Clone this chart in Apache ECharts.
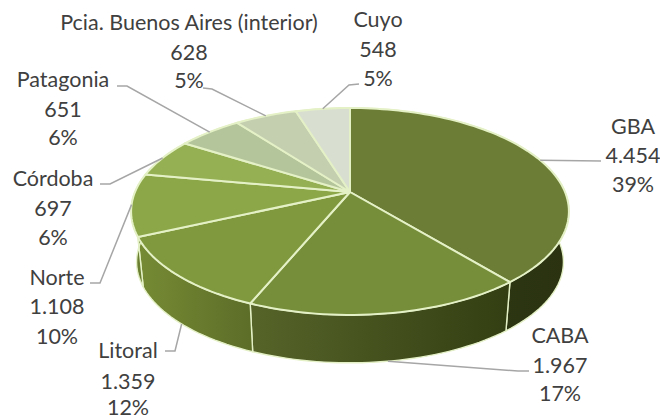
<!DOCTYPE html>
<html>
<head>
<meta charset="utf-8">
<style>
  html, body { margin: 0; padding: 0; background: #fff; }
  #chart { width: 660px; height: 419px; }
</style>
<script src="https://cdn.jsdelivr.net/npm/echarts@6/dist/echarts.min.js"></script>
</head>
<body>
<div id="chart"></div>
<script>
// clockwise from 12 o'clock, same order as the source pie
const categories = ['GBA', 'CABA', 'Litoral', 'Norte', 'Córdoba', 'Patagonia', 'Pcia. Buenos Aires (interior)', 'Cuyo'];
const values = [4454, 1967, 1359, 1108, 697, 651, 628, 548];
const valueLabels = ['4.454', '1.967', '1.359', '1.108', '697', '651', '628', '548'];
const percentLabels = ['39%', '17%', '12%', '10%', '6%', '6%', '5%', '5%'];

const topColors = ['#6C7D35', '#768D3A', '#80993E', '#8BA748', '#94B053', '#B5C59B', '#C4CFB0', '#D9DFD0'];
// left colour, right colour of each wall
const wallColors = [
  ['#333E14', '#2A3210'],
  ['#566429', '#333E12'],
  ['#768B34', '#5C6D28'],
  ['#6B7F30', '#6B7F30'],
  ['#6B7F30', '#6B7F30'],
  ['#6B7F30', '#6B7F30'],
  ['#6B7F30', '#6B7F30'],
  ['#6B7F30', '#6B7F30']
];

// label centre x, centre y of each of the three lines, elbow of the leader (x, y), stub end (x, y)
const labelBoxes = [
  [633, [126, 155, 184], 601, 161, 601, 161],
  [560, [335, 365, 393], 518, 371, 529, 371],
  [128, [350, 381, 407], 175, 351, 165, 351],
  [57, [277, 306, 336], 100, 283, 90, 283],
  [53, [178, 208, 237], 110, 184, 100, 184],
  [63, [79, 109, 137], 127, 86, 117, 86],
  [189, [22, 52, 80], 212, 89, 203, 88],
  [378, [19, 49, 78], 349, 85, 359, 84]
];
// which rim the leader lands on: 0 top face, 1 bottom of the wall
const leaderRim = [0, 1, 1, 0, 0, 0, 0, 0];

const RIM = '#E4F0C6';
const CX = 350, AY = 192;
const A = 215, B = 99.8, K = 0.188;  // perspective pie: half width, half height, tilt
const BOTTOM_Y = 243, BOTTOM_S = 0.975;

const total = values.reduce((s, v) => s + v, 0);
const starts = [];
values.reduce((s, v, i) => { starts[i] = s; return s + v; }, 0);

function ang(v) { return v / total * Math.PI * 2; }

function rimPoint(t, ay, s) {
  const u = Math.sin(t), v = -Math.cos(t), d = 1 - K * v;
  return [CX + s * A * u / d, ay + s * B * v / d];
}

function arc(t0, t1, ay, s) {
  const n = Math.max(2, Math.ceil((t1 - t0) / 0.03));
  const pts = [];
  for (let i = 0; i <= n; i++) pts.push(rimPoint(t0 + (t1 - t0) * i / n, ay, s));
  return pts;
}

function renderWall(params, api) {
  const i = params.dataIndex;
  const t0 = ang(starts[i]), t1 = t0 + ang(api.value(1));
  const pts = arc(t0, t1, AY, 1).concat(arc(t0, t1, BOTTOM_Y, BOTTOM_S).reverse());
  return {
    type: 'polygon',
    shape: { points: pts },
    style: {
      fill: new echarts.graphic.LinearGradient(0, 0, 1, 0, [
        { offset: 0, color: wallColors[i][0] },
        { offset: 1, color: wallColors[i][1] }
      ]),
      stroke: RIM,
      lineWidth: 1.4
    }
  };
}

function renderTop(params, api) {
  const i = params.dataIndex;
  const t0 = ang(starts[i]), t1 = t0 + ang(api.value(1));
  return {
    type: 'polygon',
    shape: { points: [[CX, AY]].concat(arc(t0, t1, AY, 1)) },
    style: { fill: topColors[i], stroke: RIM, lineWidth: 2, lineJoin: 'round' }
  };
}

function labelLine(x, y, text) {
  return {
    type: 'text',
    style: {
      x, y, text,
      align: 'center', verticalAlign: 'middle',
      fill: '#404040',
      fontFamily: 'Lato', fontSize: 21.5
    }
  };
}

function renderLabel(params, api) {
  const i = params.dataIndex;
  const mid = ang(starts[i] + api.value(1) / 2);
  const end = leaderRim[i] ? rimPoint(mid, BOTTOM_Y, BOTTOM_S) : rimPoint(mid, AY, 1);
  const b = labelBoxes[i];
  return {
    type: 'group',
    children: [
      {
        type: 'polyline',
        shape: { points: [[b[4], b[5]], [b[2], b[3]], end] },
        style: { fill: 'none', stroke: '#A6A6A6', lineWidth: 1.5 }
      },
      labelLine(b[0], b[1][0], categories[i]),
      labelLine(b[0], b[1][1], valueLabels[i]),
      labelLine(b[0], b[1][2], percentLabels[i])
    ]
  };
}

const data = values.map((v, i) => [i, v]);

const chart = echarts.init(document.getElementById('chart'), null, { renderer: 'svg' });
chart.setOption({
  animation: false,
  backgroundColor: '#fff',
  series: [
    { type: 'custom', coordinateSystem: 'none', silent: true, z: 1, data, renderItem: renderWall },
    { type: 'custom', coordinateSystem: 'none', silent: true, z: 2, data, renderItem: renderTop },
    { type: 'custom', coordinateSystem: 'none', silent: true, z: 3, data, renderItem: renderLabel }
  ]
});
</script>
</body>
</html>
